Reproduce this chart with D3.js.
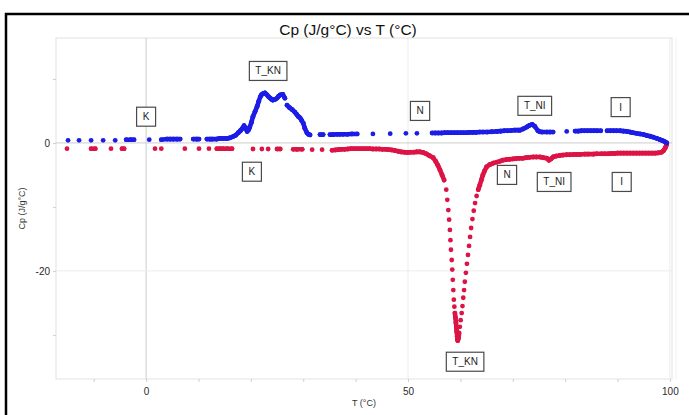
<!DOCTYPE html>
<html>
<head>
<meta charset="utf-8">
<script src="https://cdn.jsdelivr.net/npm/d3@7"></script>
<style>
  html, body { margin: 0; padding: 0; background: #fff; }
  svg { display: block; font-family: Arial, "Liberation Sans", sans-serif; }
</style>
</head>
<body>
<svg id="chart" width="689" height="415"></svg>
<script>
// Heating run (blue): temperature (°C) and heat capacity Cp (J/g°C)
const heatT = [
  -14.9, -12.8, -10.5, -8.2, -5.9, -3.8, -2.9, -2.3, 0.6, 2.9, 4.0, 4.6, 5.2, 5.9, 6.5, 9.0, 9.7, 10.1, 11.6, 12.2, 12.6,
  13.5, 14.0, 14.5, 15.0, 15.5, 16.0, 16.6, 17.1, 17.6, 18.0, 18.3, 18.7, 19.0, 19.3, 19.6, 19.8, 20.1, 20.4, 20.8, 21.2,
  21.5, 21.8, 22.0, 22.3, 22.7, 23.1, 23.4, 23.7, 24.0, 24.2, 24.6, 25.0, 25.3, 25.6, 26.1, 26.5, 26.9, 27.4, 27.9, 28.4,
  28.8, 29.1, 29.4, 29.7, 30.0, 30.3, 30.7, 31.0, 31.3,
  33.2, 33.8, 35.1, 35.7, 36.5, 37.0, 37.6, 38.4, 39.3, 40.3, 43.3, 46.6, 49.6, 51.7,
  54.6, 55.2, 55.8, 56.4, 57.0, 57.6, 58.2, 58.8, 59.4, 60.0, 60.6, 61.2, 61.8, 62.4, 63.0, 63.7, 64.3, 65.1, 66.0, 67.0,
  67.7, 68.4, 69.0, 69.7, 70.4, 71.0, 71.4, 72.0, 72.7, 73.2, 73.7, 74.2, 74.8, 75.2, 75.6,
  76.5, 77.1, 77.7, 80.3,
  81.9, 82.5, 83.1, 83.7, 84.3, 84.9, 85.5, 86.1, 86.8, 88.0, 88.6, 89.2, 89.8, 90.5, 91.1, 91.8, 92.4, 92.9, 93.6, 94.3,
  95.0, 95.6, 96.2, 96.8, 97.5, 98.1, 98.6, 99.0, 99.4
];
const heatCp = [
  0.4, 0.4, 0.4, 0.4, 0.4, 0.5, 0.5, 0.5, 0.5, 0.5, 0.6, 0.6, 0.6, 0.6, 0.6, 0.6, 0.6, 0.6, 0.6, 0.6, 0.6,
  0.6, 0.7, 0.7, 0.7, 0.7, 0.8, 1.0, 1.2, 1.6, 1.9, 2.2, 2.7, 2.3, 1.8, 2.1, 2.5, 3.2, 4.1, 4.9, 5.7,
  6.5, 7.2, 7.5, 7.7, 7.8, 7.5, 7.2, 7.0, 6.8, 6.7, 6.8, 7.0, 7.3, 7.5, 7.6, 7.0, 5.9, 5.5, 5.2, 4.8,
  4.4, 4.1, 3.9, 3.5, 3.1, 2.3, 1.6, 1.35, 1.25,
  1.3, 1.3, 1.3, 1.3, 1.35, 1.35, 1.35, 1.35, 1.4, 1.4, 1.4, 1.45, 1.5, 1.5,
  1.55, 1.55, 1.55, 1.55, 1.6, 1.6, 1.6, 1.6, 1.6, 1.6, 1.6, 1.6, 1.65, 1.65, 1.65, 1.7, 1.7, 1.7, 1.75, 1.8,
  1.85, 1.9, 1.9, 1.95, 2.0, 2.0, 2.0, 2.2, 2.5, 2.75, 2.9, 2.6, 1.9, 1.75, 1.7,
  1.7, 1.7, 1.7, 1.8,
  1.85, 1.85, 1.9, 1.9, 1.9, 1.9, 1.9, 1.9, 1.9, 1.9, 1.9, 1.9, 1.9, 1.9, 1.85, 1.8, 1.7, 1.6, 1.5, 1.4,
  1.3, 1.15, 1.05, 0.9, 0.7, 0.5, 0.35, 0.2, 0.0
];

// Cooling run (red)
const coolT = [
  -15.1, -10.5, -9.7, -6.7, -4.6, -4.2, 1.7, 2.9, 7.4, 10.1, 12.0, 13.5, 14.1, 14.7, 15.5, 16.4, 20.4, 22.1, 23.3, 25.0,
  25.6, 28.1, 28.8, 29.8, 31.7, 33.6,
  35.5, 36.1, 36.7, 37.3, 37.9, 38.5, 39.1, 39.7, 40.3, 40.9, 41.5, 42.1, 42.7, 43.3, 43.9, 44.5, 45.1, 45.7, 46.3, 46.9,
  47.5, 48.1, 48.7, 49.3, 49.9, 50.5, 51.1, 51.7, 52.3, 52.9, 53.5, 54.1, 54.8, 55.3, 55.7, 56.1, 56.5, 56.9,
  57.3, 57.5, 57.7, 57.85, 58.0, 58.1, 58.2, 58.35, 58.45, 58.55, 58.65, 58.75, 58.85, 58.95, 59.05, 59.15, 59.25, 59.3,
  59.4, 59.45, 59.5,
  59.65, 59.75, 59.9, 60.05, 60.25, 60.4, 60.55, 60.7, 60.85, 61.05, 61.25, 61.45, 61.65, 61.85, 62.05, 62.3, 62.55,
  62.8, 63.1, 63.4, 63.7, 64.0, 64.3, 64.6, 65.0, 65.6, 66.3, 67.0, 67.6, 68.1, 68.8, 69.4, 70.0, 70.6, 71.3, 71.9,
  72.6, 73.2, 73.9, 74.5, 75.2, 75.8, 76.5, 76.9, 77.3, 77.7, 78.3, 79.0, 79.6, 80.3, 80.9, 81.6, 82.2, 82.8,
  83.8, 84.4, 85.4, 86.0, 87.0, 87.6, 88.2, 88.8, 89.4, 90.0, 90.6, 91.2, 91.8, 92.4, 93.0, 93.6, 94.2, 94.8, 95.4,
  96.0, 96.6, 97.2, 97.8, 98.4, 98.8, 99.1, 99.3, 99.4
];
const coolCp = [
  -0.9, -0.9, -0.9, -0.9, -0.9, -0.9, -0.9, -0.9, -0.9, -0.9, -0.9, -0.9, -0.9, -0.9, -0.9, -0.9, -0.95, -0.95, -0.95, -0.95,
  -0.95, -1.0, -1.0, -1.0, -1.05, -1.05,
  -1.15, -1.1, -1.05, -1.0, -1.0, -0.95, -0.9, -0.9, -0.9, -0.9, -0.9, -0.9, -0.9, -0.95, -0.95, -0.95, -1.0, -1.0, -1.05, -1.1,
  -1.2, -1.3, -1.4, -1.45, -1.5, -1.45, -1.45, -1.4, -1.4, -1.5, -1.7, -2.0, -2.3, -2.9, -3.5, -4.2, -5.0, -5.8,
  -7.3, -8.9, -10.5, -12.0, -13.6, -15.2, -16.7, -18.3, -19.8, -21.4, -23.0, -24.5, -25.6, -26.6, -27.3, -28.1, -28.9, -29.5,
  -30.2, -30.6, -30.9,
  -30.5, -29.7, -28.75, -27.7, -26.6, -25.5, -24.2, -23.0, -21.7, -20.3, -18.9, -17.5, -16.1, -14.7, -13.3, -11.9, -10.6,
  -9.4, -8.3, -7.3, -6.6, -5.8, -5.0, -4.4, -3.75, -3.4, -3.15, -3.0, -2.85, -2.7, -2.6, -2.55, -2.5, -2.45, -2.4, -2.4,
  -2.3, -2.25, -2.2, -2.2, -2.2, -2.3, -2.4, -2.7, -2.5, -2.2, -2.05, -1.95, -1.9, -1.85, -1.85, -1.8, -1.8, -1.8,
  -1.75, -1.75, -1.75, -1.7, -1.7, -1.7, -1.7, -1.65, -1.65, -1.6, -1.6, -1.6, -1.6, -1.6, -1.6, -1.6, -1.6, -1.6, -1.6,
  -1.6, -1.6, -1.6, -1.55, -1.45, -1.2, -0.8, -0.4, 0.0
];

// Transition annotations placed in data coordinates
const noteText = ["K", "T_KN", "K", "N", "T_NI", "I", "N", "T_NI", "I", "T_KN"];
const noteT    = [0.0, 23.3, 20.2, 52.3, 74.2, 90.6, 68.9, 77.9, 90.8, 60.9];
const noteCp   = [4.1, 11.25, -4.5, 5.0, 5.8, 5.6, -5.0, -6.1, -6.1, -34.2];

const xTickLabels = [0, 50, 100];
const yTickLabels = [0, -20];
const xMinorTicks = [-10, 0, 10, 20, 30, 40, 50, 60, 70, 80, 90, 100];
const yMinorTicks = [10, 0, -10, -20, -30];

const title = "Cp (J/g°C) vs T (°C)";
const xTitle = "T (°C)";
const yTitle = "Cp (J/g°C)";

const heatColor = "#1c1ce6";
const coolColor = "#dc1446";

const svg = d3.select("#chart");
const plot = { left: 56, right: 672, top: 38, bottom: 379 };

const x = d3.scaleLinear().domain([-17.2, 100.4]).range([plot.left, plot.right]);
const y = d3.scaleLinear().domain([16.4, -36.9]).range([plot.top, plot.bottom]);

// Outer frame
svg.append("rect")
  .attr("x", 6).attr("y", 14).attr("width", 720).attr("height", 440)
  .attr("fill", "none").attr("stroke", "#000").attr("stroke-width", 2.5);

// Title
svg.append("text")
  .attr("x", 348).attr("y", 35)
  .attr("text-anchor", "middle")
  .attr("font-size", 15.5).attr("fill", "#111")
  .text(title);

// Plot frame
svg.append("rect")
  .attr("x", plot.left).attr("y", plot.top)
  .attr("width", plot.right - plot.left).attr("height", plot.bottom - plot.top)
  .attr("fill", "none").attr("stroke", "#e2e2e2").attr("stroke-width", 1);
svg.append("line")
  .attr("x1", plot.right + 4).attr("x2", plot.right + 4)
  .attr("y1", plot.top).attr("y2", plot.bottom)
  .attr("stroke", "#f0f0f0").attr("stroke-width", 1);

// Grid lines at labelled ticks
const gx = svg.append("g");
gx.selectAll("line").data(xTickLabels).join("line")
  .attr("x1", d => x(d)).attr("x2", d => x(d))
  .attr("y1", plot.top).attr("y2", plot.bottom)
  .attr("stroke", d => d === 0 ? "#cdcdcd" : "#ececec").attr("stroke-width", 1);
const gy = svg.append("g");
gy.selectAll("line").data(yTickLabels).join("line")
  .attr("x1", plot.left).attr("x2", plot.right)
  .attr("y1", d => y(d)).attr("y2", d => y(d))
  .attr("stroke", d => d === 0 ? "#cdcdcd" : "#ececec").attr("stroke-width", 1);

// Axes (ticks every 10, labels on the gridlines only; plain hyphen for negatives)
const xAxis = d3.axisBottom(x).tickValues(xMinorTicks).tickSize(3)
  .tickFormat(d => xTickLabels.includes(d) ? String(d) : "");
const gxa = svg.append("g").attr("transform", `translate(0,${plot.bottom})`).call(xAxis);
gxa.select(".domain").remove();
gxa.selectAll(".tick line").attr("stroke", "#cfcfcf");
gxa.selectAll(".tick text").attr("font-size", 10).attr("fill", "#2a2a2a")
  .attr("font-family", "Arial, 'Liberation Sans', sans-serif").attr("dy", "0.71em").attr("y", 9);

const yAxis = d3.axisLeft(y).tickValues(yMinorTicks).tickSize(3)
  .tickFormat(d => yTickLabels.includes(d) ? String(d) : "");
const gya = svg.append("g").attr("transform", `translate(${plot.left},0)`).call(yAxis);
gya.select(".domain").remove();
gya.selectAll(".tick line").attr("stroke", "#cfcfcf");
gya.selectAll(".tick text").attr("font-size", 10).attr("fill", "#2a2a2a")
  .attr("font-family", "Arial, 'Liberation Sans', sans-serif").attr("x", -6);

// Axis titles
svg.append("text")
  .attr("x", (plot.left + plot.right) / 2).attr("y", 406)
  .attr("text-anchor", "middle").attr("font-size", 9).attr("fill", "#333")
  .text(xTitle);
svg.append("text")
  .attr("transform", `translate(25,${(plot.top + plot.bottom) / 2}) rotate(-90)`)
  .attr("text-anchor", "middle").attr("font-size", 9).attr("fill", "#333")
  .text(yTitle);

// Draw a series: dots for every reading, with closely spaced readings joined
function drawSeries(ts, cps, color) {
  const pts = ts.map((t, i) => [x(t), y(cps[i])]);
  const g = svg.append("g");
  const segs = [];
  for (let i = 1; i < pts.length; i++) {
    const dx = pts[i][0] - pts[i - 1][0], dy = pts[i][1] - pts[i - 1][1];
    if (Math.hypot(dx, dy) < 6) segs.push([pts[i - 1], pts[i]]);
  }
  g.selectAll("line").data(segs).join("line")
    .attr("x1", d => d[0][0]).attr("y1", d => d[0][1])
    .attr("x2", d => d[1][0]).attr("y2", d => d[1][1])
    .attr("stroke", color).attr("stroke-width", 4.6).attr("stroke-linecap", "round");
  g.selectAll("circle").data(pts).join("circle")
    .attr("cx", d => d[0]).attr("cy", d => d[1]).attr("r", 2.4)
    .attr("fill", color);
}
drawSeries(coolT, coolCp, coolColor);
drawSeries(heatT, heatCp, heatColor);

// Annotation boxes
const notes = svg.append("g");
noteText.forEach((txt, i) => {
  const cx = x(noteT[i]), cy = y(noteCp[i]);
  const g = notes.append("g").attr("transform", `translate(${cx},${cy})`);
  const rect = g.append("rect").attr("fill", "#fff").attr("stroke", "#4a4a4a").attr("stroke-width", 1.2);
  const t = g.append("text").attr("text-anchor", "middle").attr("dy", "0.35em")
    .attr("font-size", 10).attr("fill", "#222").text(txt);
  const w = Math.max(19, t.node().getComputedTextLength() + 12);
  const h = 19;
  rect.attr("x", -w / 2).attr("y", -h / 2).attr("width", w).attr("height", h);
});
</script>
</body>
</html>
